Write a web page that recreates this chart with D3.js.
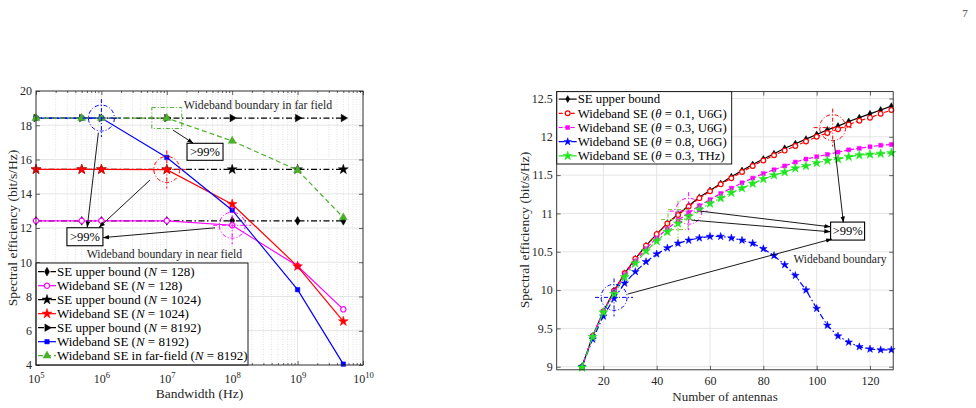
<!DOCTYPE html>
<html>
<head>
<meta charset="utf-8">
<script src="https://cdn.jsdelivr.net/npm/d3@7"></script>
<style>
  body { margin: 0; background: #fff; }
  svg text { font-family: "Liberation Serif", "Times New Roman", serif; }
  .tick line { stroke: #262626; stroke-width: 0.7; }
  .domain { display: none; }
</style>
</head>
<body>
<svg id="chart" width="976" height="408"></svg>
<script>
'use strict';

// ---------- left figure: SE vs. bandwidth ----------
const bandwidths  = [1e5, 5e5, 1e6, 1e7, 1e8, 1e9, 5e9];
const seBound128  = [12.42, 12.42, 12.42, 12.42, 12.42, 12.42, 12.42];
const wbSe128     = [12.42, 12.42, 12.42, 12.42, 12.16, 9.78, 7.25];
const seBound1024 = [15.42, 15.42, 15.42, 15.42, 15.42, 15.42, 15.42];
const wbSe1024    = [15.42, 15.42, 15.42, 15.41, 13.39, 9.76, 6.55];
const seBound8192 = [18.42, 18.42, 18.42, 18.42, 18.42, 18.42, 18.42];
const wbSe8192    = [18.42, 18.42, 18.42, 16.12, 13.04, 8.40, 4.05];
const farSe8192   = [18.42, 18.42, 18.42, 18.42, 17.08, 15.38, 12.61];
const bwTicks     = [1e5, 1e6, 1e7, 1e8, 1e9, 1e10];
const seTicksL    = [4, 6, 8, 10, 12, 14, 16, 18, 20];

// ---------- right figure: SE vs. number of antennas ----------
const antennas = [12, 16, 20, 24, 28, 32, 36, 40, 44, 48, 52, 56, 60, 64, 68,
                  72, 76, 80, 84, 88, 92, 96, 100, 104, 108, 112, 116, 120, 124, 128];
const seBound      = [9.00, 9.40, 9.72, 9.99, 10.22, 10.41, 10.58, 10.73, 10.87, 10.99,
                      11.10, 11.21, 11.30, 11.39, 11.48, 11.56, 11.64, 11.71, 11.78, 11.85,
                      11.91, 11.97, 12.03, 12.09, 12.14, 12.20, 12.25, 12.30, 12.35, 12.40];
const wbTheta01U6G = [9.00, 9.40, 9.72, 9.99, 10.22, 10.41, 10.58, 10.73, 10.87, 10.98,
                      11.09, 11.20, 11.29, 11.38, 11.46, 11.54, 11.62, 11.69, 11.76, 11.82,
                      11.88, 11.94, 12.00, 12.05, 12.10, 12.16, 12.21, 12.25, 12.30, 12.35];
const wbTheta03U6G = [9.00, 9.40, 9.72, 9.97, 10.20, 10.38, 10.54, 10.68, 10.80, 10.91,
                      11.01, 11.10, 11.18, 11.26, 11.33, 11.40, 11.46, 11.52, 11.57, 11.62,
                      11.67, 11.71, 11.74, 11.77, 11.80, 11.83, 11.85, 11.87, 11.89, 11.90];
const wbTheta08U6G = [9.00, 9.36, 9.66, 9.89, 10.09, 10.24, 10.37, 10.47, 10.55, 10.61,
                      10.65, 10.68, 10.70, 10.70, 10.68, 10.65, 10.61, 10.54, 10.45, 10.33,
                      10.19, 10.00, 9.76, 9.54, 9.40, 9.32, 9.26, 9.23, 9.22, 9.22];
const wbTheta03THz = [8.99, 9.39, 9.71, 9.95, 10.17, 10.35, 10.51, 10.64, 10.76, 10.87,
                      10.96, 11.05, 11.13, 11.20, 11.27, 11.33, 11.39, 11.45, 11.50, 11.54,
                      11.59, 11.62, 11.66, 11.69, 11.71, 11.74, 11.76, 11.77, 11.78, 11.79];
const antTicks = [20, 40, 60, 80, 100, 120];
const seTicksR = [9, 9.5, 10, 10.5, 11, 11.5, 12, 12.5];

const svg = d3.select('#chart');
const INK = '#262626';
const DASHDOT = '6,2.5,1.5,2.5';

// arrow head
svg.append('defs').append('marker')
    .attr('id', 'head').attr('viewBox', '0 0 10 10')
    .attr('refX', 9).attr('refY', 5)
    .attr('markerWidth', 7).attr('markerHeight', 7)
    .attr('orient', 'auto')
  .append('path').attr('d', 'M0,1.5 L10,5 L0,8.5 Z').attr('fill', '#000');

function drawSeries(g, xs, ys, x, y, s) {
  const line = d3.line().x((d, i) => x(xs[i])).y(d => y(d));
  g.append('path').datum(ys)
      .attr('d', line)
      .attr('fill', 'none')
      .attr('stroke', s.color)
      .attr('stroke-width', 1.2)
      .attr('stroke-dasharray', s.dash);
  g.selectAll(null).data(ys).join('path')
      .attr('transform', (d, i) => `translate(${x(xs[i])},${y(d)}) rotate(${s.rotate || 0})`)
      .attr('d', d3.symbol().type(s.symbol).size(s.size))
      .attr('fill', s.open ? '#fff' : s.color)
      .attr('stroke', s.color)
      .attr('stroke-width', s.open ? 1.2 : 0.5);
}

function drawLegend(g, series, box, step) {
  g.append('rect')
      .attr('x', box.x).attr('y', box.y).attr('width', box.w).attr('height', box.h)
      .attr('fill', '#fff').attr('stroke', '#000').attr('stroke-width', 0.9);
  series.forEach((s, i) => {
    const cy = box.y + box.first + i * step;
    g.append('line')
        .attr('x1', box.x + 2).attr('x2', box.x + 20).attr('y1', cy).attr('y2', cy)
        .attr('stroke', s.color).attr('stroke-width', 1.2).attr('stroke-dasharray', s.dash);
    g.append('path')
        .attr('transform', `translate(${box.x + 11},${cy}) rotate(${s.rotate || 0})`)
        .attr('d', d3.symbol().type(s.symbol).size(s.size))
        .attr('fill', s.open ? '#fff' : s.color)
        .attr('stroke', s.color).attr('stroke-width', s.open ? 1.2 : 0.5);
    const t = g.append('text')
        .attr('x', box.x + 21).attr('y', cy).attr('dy', '0.33em')
        .attr('font-size', box.font).attr('fill', '#000');
    t.append('tspan').text(s.label[0]);
    t.append('tspan').attr('font-style', 'italic').text(s.label[1]);
    t.append('tspan').text(s.label[2]);
  });
}

function drawFrame(g, x, y, xTicks, yTicks, opts) {
  const [x0, x1] = x.range();
  const [y0, y1] = y.range();
  // grid
  if (opts.minor) {
    g.append('g').selectAll('line').data(opts.minor).join('line')
        .attr('x1', d => x(d)).attr('x2', d => x(d)).attr('y1', y0).attr('y2', y1)
        .attr('stroke', '#cfcfcf').attr('stroke-width', 0.6).attr('stroke-dasharray', '1,1.5');
  }
  g.append('g').selectAll('line').data(xTicks).join('line')
      .attr('x1', d => x(d)).attr('x2', d => x(d)).attr('y1', y0).attr('y2', y1)
      .attr('stroke', '#e2e2e2').attr('stroke-width', 0.9);
  g.append('g').selectAll('line').data(yTicks).join('line')
      .attr('x1', x0).attr('x2', x1).attr('y1', d => y(d)).attr('y2', d => y(d))
      .attr('stroke', '#e2e2e2').attr('stroke-width', 0.9);

  // axes, ticks pointing inward on all four sides
  const bottom = g.append('g').attr('transform', `translate(0,${y0})`)
      .call(d3.axisBottom(x).tickValues(xTicks).tickSize(-4).tickPadding(opts.xPad)
        .tickFormat(opts.xFormat || d3.format('')));
  bottom.selectAll('text').attr('font-size', 12).attr('fill', INK);
  g.append('g').attr('transform', `translate(0,${y1})`)
      .call(d3.axisTop(x).tickValues(xTicks).tickSize(-4).tickFormat(''));
  const left = g.append('g').attr('transform', `translate(${x0},0)`)
      .call(d3.axisLeft(y).tickValues(yTicks).tickSize(-4).tickPadding(4)
        .tickFormat(d3.format('')));
  left.selectAll('text').attr('font-size', 12).attr('fill', INK);
  g.append('g').attr('transform', `translate(${x1},0)`)
      .call(d3.axisRight(y).tickValues(yTicks).tickSize(-4).tickFormat(''));
  if (opts.minor) {
    g.append('g').attr('transform', `translate(0,${y0})`)
        .call(d3.axisBottom(x).tickValues(opts.minor).tickSize(-2).tickFormat(''));
    g.append('g').attr('transform', `translate(0,${y1})`)
        .call(d3.axisTop(x).tickValues(opts.minor).tickSize(-2).tickFormat(''));
  }
  return bottom;
}

function circleMark(g, cx, cy, color) {
  g.append('circle').attr('cx', cx).attr('cy', cy).attr('r', 13)
      .attr('fill', 'none').attr('stroke', color).attr('stroke-width', 1)
      .attr('stroke-dasharray', '4,2,1,2');
  g.append('line').attr('x1', cx).attr('x2', cx).attr('y1', cy - 19).attr('y2', cy + 19)
      .attr('stroke', color).attr('stroke-width', 1).attr('stroke-dasharray', '4,2,1,2');
  g.append('line').attr('x1', cx - 19).attr('x2', cx + 19).attr('y1', cy).attr('y2', cy)
      .attr('stroke', color).attr('stroke-width', 1).attr('stroke-dasharray', '4,2,1,2');
}

function rectMark(g, cx, cy, w, h, color, cross) {
  g.append('rect').attr('x', cx - w / 2).attr('y', cy - h / 2).attr('width', w).attr('height', h)
      .attr('fill', 'none').attr('stroke', color).attr('stroke-width', 1)
      .attr('stroke-dasharray', '4,2,1,2');
  if (cross) {
    g.append('line').attr('x1', cx).attr('x2', cx).attr('y1', cy - 19).attr('y2', cy + 19)
        .attr('stroke', color).attr('stroke-width', 1).attr('stroke-dasharray', '4,2,1,2');
    g.append('line').attr('x1', cx - 17).attr('x2', cx + 17).attr('y1', cy).attr('y2', cy)
        .attr('stroke', color).attr('stroke-width', 1).attr('stroke-dasharray', '4,2,1,2');
  }
}

function labelBox(g, cx, cy, w, h, text) {
  g.append('rect').attr('x', cx - w / 2).attr('y', cy - h / 2).attr('width', w).attr('height', h)
      .attr('fill', '#fff').attr('stroke', '#000').attr('stroke-width', 1.1);
  g.append('text').attr('x', cx).attr('y', cy).attr('dy', '0.35em')
      .attr('text-anchor', 'middle').attr('font-size', 12.5).attr('fill', '#000').text(text);
}

function arrow(g, a, b) {
  g.append('line').attr('x1', a[0]).attr('y1', a[1]).attr('x2', b[0]).attr('y2', b[1])
      .attr('stroke', '#000').attr('stroke-width', 0.9).attr('marker-end', 'url(#head)');
}

// ================= left panel =================
const xL = d3.scaleLog().domain([1e5, 1e10]).range([36, 363]);
const yL = d3.scaleLinear().domain([4, 20]).range([365, 91]);
const minorBw = [];
bwTicks.slice(0, -1).forEach(t => { for (let m = 2; m <= 9; m++) minorBw.push(m * t); });

const gL = svg.append('g');
const bottomL = drawFrame(gL, xL, yL, bwTicks, seTicksL, {minor: minorBw, xPad: 9});
// 10^k labels
bottomL.selectAll('.tick text').each(function(d) {
  const t = d3.select(this).text('10');
  t.append('tspan').attr('dy', '-0.5em').attr('font-size', '0.72em').text(Math.round(Math.log10(d)));
});

const leftSeries = [
  {values: seBound128,  color: '#000',    dash: DASHDOT, symbol: d3.symbolDiamond, size: 22,
   label: ['SE upper bound (', 'N', ' = 128)']},
  {values: wbSe128,     color: '#ff00ff', dash: null, symbol: d3.symbolCircle, size: 22, open: true,
   label: ['Wideband SE (', 'N', ' = 128)']},
  {values: seBound1024, color: '#000',    dash: DASHDOT, symbol: d3.symbolStar, size: 30,
   label: ['SE upper bound (', 'N', ' = 1024)']},
  {values: wbSe1024,    color: '#ff0000', dash: null, symbol: d3.symbolStar, size: 30,
   label: ['Wideband SE (', 'N', ' = 1024)']},
  {values: seBound8192, color: '#000',    dash: DASHDOT, symbol: d3.symbolTriangle, size: 24, rotate: 90,
   label: ['SE upper bound (', 'N', ' = 8192)']},
  {values: wbSe8192,    color: '#0000ff', dash: null, symbol: d3.symbolSquare, size: 20,
   label: ['Wideband SE (', 'N', ' = 8192)']},
  {values: farSe8192,   color: '#4caf2a', dash: '5,3', symbol: d3.symbolTriangle, size: 28,
   label: ['Wideband SE in far-field (', 'N', ' = 8192)']}
];
leftSeries.forEach(s => drawSeries(gL, bandwidths, s.values, xL, yL, s));

// annotations (positions in data coordinates)
circleMark(gL, xL(1e6), yL(18.42), '#0000ff');
circleMark(gL, xL(1e7), yL(15.42), '#ff0000');
circleMark(gL, xL(1e8), yL(12.16), '#ff00ff');
rectMark(gL, xL(1e7), yL(18.42), 30, 21, '#4caf2a', false);
labelBox(gL, xL(3.84e7), yL(16.45), 36, 17, '>99%');
labelBox(gL, xL(5.6e5), yL(11.49), 36, 18, '>99%');
arrow(gL, [xL(1.24e7), yL(17.72)], [xL(2.52e7), yL(16.96)]);
arrow(gL, [xL(8.98e5), yL(17.56)], [xL(6.08e5), yL(12.05)]);
arrow(gL, [xL(5.53e6), yL(14.80)], [xL(9.29e5), yL(12.05)]);
arrow(gL, [xL(5.46e7), yL(12.01)], [xL(1.07e6), yL(11.44)]);
gL.append('text').attr('x', xL(2.48e8)).attr('y', yL(19.18)).attr('dy', '0.35em')
    .attr('text-anchor', 'middle').attr('font-size', 11.8).attr('fill', INK)
    .text('Wideband boundary in far field');
gL.append('text').attr('x', xL(9.2e6)).attr('y', yL(10.51)).attr('dy', '0.35em')
    .attr('text-anchor', 'middle').attr('font-size', 11.8).attr('fill', INK)
    .text('Wideband boundary in near field');

drawLegend(gL, leftSeries, {x: 36, y: 263, w: 212, h: 102, first: 8.7, font: 13}, 14);

gL.append('rect').attr('x', 36).attr('y', 91).attr('width', 363 - 36).attr('height', 365 - 91)
    .attr('fill', 'none').attr('stroke', INK).attr('stroke-width', 0.9);
gL.append('text').attr('x', 199.5).attr('y', 393).attr('dy', '0.35em')
    .attr('text-anchor', 'middle').attr('font-size', 13.5).attr('fill', INK).text('Bandwidth (Hz)');
gL.append('text').attr('transform', 'translate(12,228) rotate(-90)').attr('dy', '0.35em')
    .attr('text-anchor', 'middle').attr('font-size', 13.5).attr('fill', INK)
    .text('Spectral efficiency (bit/s/Hz)');

// ================= right panel =================
const xR = d3.scaleLinear().domain([2.5, 128.7]).range([556.7, 893.2]);
const yR = d3.scaleLinear().domain([8.96, 12.59]).range([369.8, 91.6]);
const gR = svg.append('g');
drawFrame(gR, xR, yR, antTicks, seTicksR, {xPad: 6.5});

const rightSeries = [
  {values: seBound,      color: '#000',    dash: null,  symbol: d3.symbolDiamond, size: 14,
   label: ['SE upper bound', '', '']},
  {values: wbTheta01U6G, color: '#ff0000', dash: '4,2', symbol: d3.symbolCircle, size: 18, open: true,
   label: ['Wideband SE (', 'θ', ' = 0.1, U6G)']},
  {values: wbTheta03U6G, color: '#ff00ff', dash: '4,2', symbol: d3.symbolSquare, size: 16,
   label: ['Wideband SE (', 'θ', ' = 0.3, U6G)']},
  {values: wbTheta08U6G, color: '#0000ff', dash: DASHDOT, symbol: d3.symbolStar, size: 18,
   label: ['Wideband SE (', 'θ', ' = 0.8, U6G)']},
  {values: wbTheta03THz, color: '#1ee61e', dash: DASHDOT, symbol: d3.symbolStar, size: 26,
   label: ['Wideband SE (', 'θ', ' = 0.3, THz)']}
];
rightSeries.forEach(s => drawSeries(gR, antennas, s.values, xR, yR, s));

circleMark(gR, xR(24), yR(9.905), '#0000ff');
rectMark(gR, xR(48), yR(10.92), 20, 20, '#7dc242', true);
circleMark(gR, xR(52), yR(11.03), '#ff00ff');
circleMark(gR, xR(106), yR(12.12), '#ff0000');
labelBox(gR, xR(111.6), yR(10.77), 34, 18, '>99%');
arrow(gR, [xR(106.5), yR(11.956)], [xR(110.0), yR(10.887)]);
arrow(gR, [xR(56.5), yR(11.03)], [xR(105), yR(10.826)]);
arrow(gR, [xR(53.1), yR(10.913)], [xR(105), yR(10.761)]);
arrow(gR, [xR(29.1), yR(9.948)], [xR(105.6), yR(10.666)]);
gR.append('text').attr('x', xR(108.75)).attr('y', yR(10.40)).attr('dy', '0.35em')
    .attr('text-anchor', 'middle').attr('font-size', 11.5).attr('fill', INK)
    .text('Wideband boundary');

drawLegend(gR, rightSeries, {x: 556.7, y: 91.6, w: 175, h: 72.4, first: 7.5, font: 12.8}, 14.2);

gR.append('rect').attr('x', 556.7).attr('y', 91.6).attr('width', 893.2 - 556.7).attr('height', 369.8 - 91.6)
    .attr('fill', 'none').attr('stroke', INK).attr('stroke-width', 0.9);
gR.append('text').attr('x', 725).attr('y', 396.5).attr('dy', '0.35em')
    .attr('text-anchor', 'middle').attr('font-size', 13).attr('fill', INK).text('Number of antennas');
gR.append('text').attr('transform', 'translate(524,230) rotate(-90)').attr('dy', '0.35em')
    .attr('text-anchor', 'middle').attr('font-size', 13.5).attr('fill', INK)
    .text('Spectral efficiency (bit/s/Hz)');

// page number
svg.append('text').attr('x', 965).attr('y', 17).attr('text-anchor', 'middle')
    .attr('font-size', 11).attr('fill', '#444').text('7');
</script>
</body>
</html>
